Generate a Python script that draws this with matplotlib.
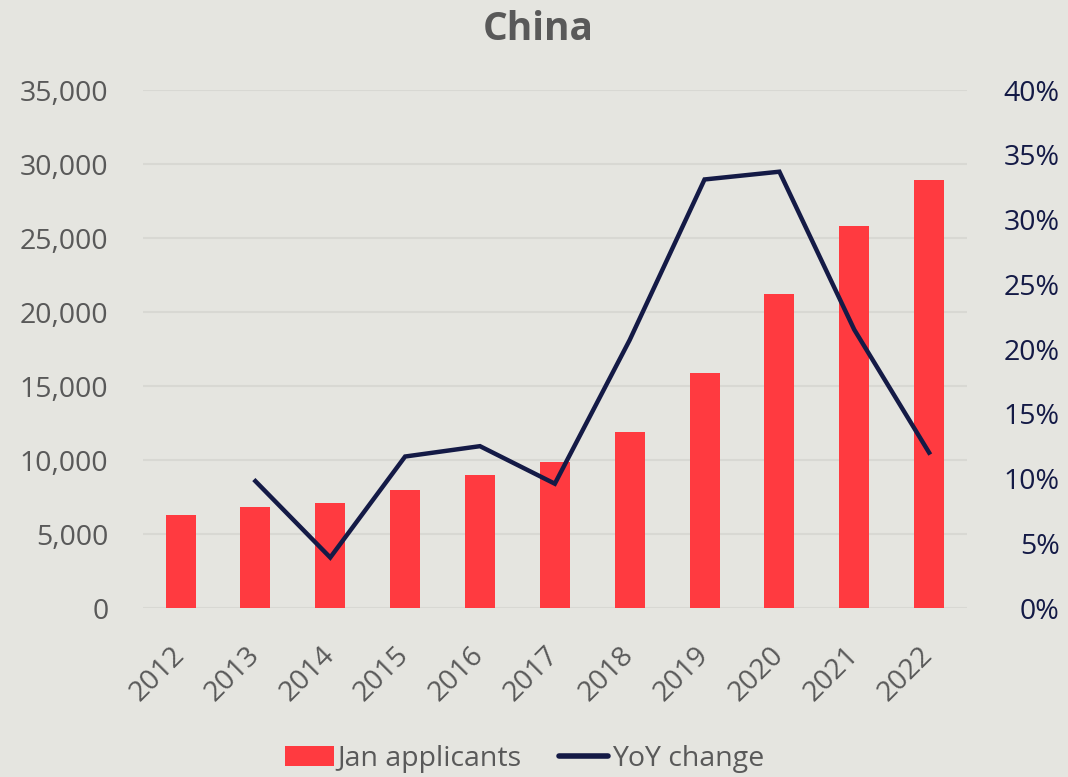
import numpy as np
import matplotlib.pyplot as plt
from matplotlib.ticker import FuncFormatter, PercentFormatter

# Data
years = ['2012', '2013', '2014', '2015', '2016', '2017', '2018', '2019', '2020', '2021', '2022']
jan_applicants = [6300, 6850, 7100, 8000, 9000, 9850, 11900, 15900, 21200, 25800, 28900]
yoy_change = [np.nan, 9.8, 3.9, 11.7, 12.5, 9.6, 20.7, 33.1, 33.7, 21.5, 12.0]   # percent

bg = '#E5E5E0'
bar_color = '#FF3A40'
line_color = '#141A46'
text_color = '#595959'
fs = 20.5

plt.rcParams['font.family'] = ['Open Sans', 'DejaVu Sans']

fig = plt.figure(figsize=(10.68, 7.77), dpi=100, facecolor=bg)
ax = fig.add_axes([0.134, 0.2175, 0.771, 0.6665], facecolor=bg)
ax2 = ax.twinx()

x = np.arange(len(years))
bars = ax.bar(x, jan_applicants, width=0.4, color=bar_color, zorder=3, label='Jan applicants')
line, = ax2.plot(x, yoy_change, color=line_color, linewidth=3.2, solid_joinstyle='miter',
                 label='YoY change', zorder=4)

ax.set_xlim(-0.5, len(years) - 0.5)
ax.set_ylim(0, 35000)
ax.set_yticks(np.arange(0, 35001, 5000))
ax.yaxis.set_major_formatter(FuncFormatter(lambda v, p: f'{int(v):,}'))
ax2.set_ylim(0, 40)
ax2.set_yticks(np.arange(0, 41, 5))
ax2.yaxis.set_major_formatter(PercentFormatter(decimals=0))

ax.grid(axis='y', color='#D8D8D3', linewidth=1.5, zorder=0)
ax.set_axisbelow(True)

for a in (ax, ax2):
    for s in a.spines.values():
        s.set_visible(False)
    a.tick_params(length=0, labelsize=fs)

ax.tick_params(axis='y', colors=text_color, pad=25)
# right axis labels are right-aligned near the figure edge
ax2.tick_params(axis='y', colors=line_color, pad=67)
for lbl in ax2.get_yticklabels():
    lbl.set_ha('right')

ax.set_xticks(x)
ax.set_xticklabels(years, rotation=45, ha='right', va='center', rotation_mode='anchor')
ax.tick_params(axis='x', colors=text_color, pad=31, labelsize=fs)

fig.text(0.504, 0.962, 'China', ha='center', va='center', fontsize=28, fontweight='bold',
         color=text_color)

leg = fig.legend(handles=[bars, line], loc='center', bbox_to_anchor=(0.491, 0.023), ncol=2,
                 frameon=False, fontsize=fs, handlelength=1.72, handleheight=0.7,
                 handletextpad=0.14, columnspacing=1.3)
for t in leg.get_texts():
    t.set_color(text_color)
leg.get_lines()[0].set_linewidth(4)
leg.get_lines()[0].set_solid_capstyle('round')

fig.savefig('out.png', dpi=100, facecolor=bg)
